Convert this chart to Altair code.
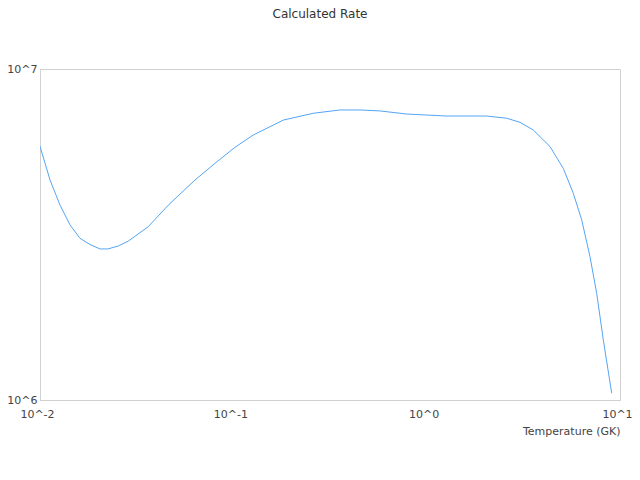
import altair as alt
import pandas as pd

temperature_gk = [0.01, 0.01127, 0.01269, 0.0143, 0.0161, 0.01814, 0.02043, 0.02247,
                  0.02541, 0.02862, 0.03633, 0.0461, 0.06336, 0.0804, 0.102, 0.1269,
                  0.1814, 0.2593, 0.3563, 0.4521, 0.5736, 0.7883, 1.27, 2.044, 2.594,
                  3.04, 3.561, 4.345, 5.089, 5.735, 6.338, 6.995, 7.578, 8.196, 9.06]
rate = [5.84e6, 4.62e6, 3.88e6, 3.38e6, 3.08e6, 2.95e6, 2.86e6, 2.86e6,
        2.92e6, 3.02e6, 3.34e6, 3.88e6, 4.62e6, 5.19e6, 5.80e6, 6.32e6,
        7.01e6, 7.35e6, 7.52e6, 7.52e6, 7.47e6, 7.31e6, 7.21e6, 7.21e6, 7.10e6,
        6.90e6, 6.54e6, 5.83e6, 5.01e6, 4.21e6, 3.50e6, 2.71e6, 2.10e6, 1.52e6, 1.048e6]
x_ticks = [0.01, 0.1, 1, 10]
y_ticks = [1e6, 1e7]

df = pd.DataFrame({"T": temperature_gk, "rate": rate})

font = "DejaVu Sans"
label_expr = "'10^' + round(log(datum.value) / LN10)"

chart = alt.Chart(df).mark_line(color="#55a4f5", strokeWidth=1, clip=True).encode(
    x=alt.X("T:Q", scale=alt.Scale(type="log", domain=[0.01, 10], nice=False),
            axis=alt.Axis(values=x_ticks, labelExpr=label_expr, title="Temperature (GK)",
                          grid=False, ticks=False, tickSize=0, labelPadding=8,
                          labelFlush=False, labelOffset=-3, labelFont=font, labelFontSize=11,
                          labelColor="#444", domainColor="#d0d0d0",
                          titleFont=font, titleFontSize=11, titleFontWeight="normal",
                          titleColor="#444", titleAnchor="end", titleAlign="right",
                          titlePadding=6)),
    y=alt.Y("rate:Q", scale=alt.Scale(type="log", domain=[1e6, 1e7], nice=False),
            axis=alt.Axis(values=y_ticks, labelExpr=label_expr, title=None,
                          grid=False, ticks=False, tickSize=0, labelPadding=3,
                          labelFlush=False, labelFont=font, labelFontSize=11,
                          labelColor="#444", domainColor="#d0d0d0",
                          labelBaseline="middle")),
).properties(
    width=580,
    height=331,
    title=alt.TitleParams("Calculated Rate", font=font, fontSize=12, fontWeight="normal",
                          color="#333", anchor="middle", offset=42, dx=-10),
    autosize=alt.AutoSizeParams(type="none"),
    padding={"left": 32, "top": 61, "right": 12, "bottom": 64},
).configure_view(
    stroke="#d0d0d0", strokeWidth=1
)

chart.save("out.html", embed_options={"renderer": "svg", "actions": False})
